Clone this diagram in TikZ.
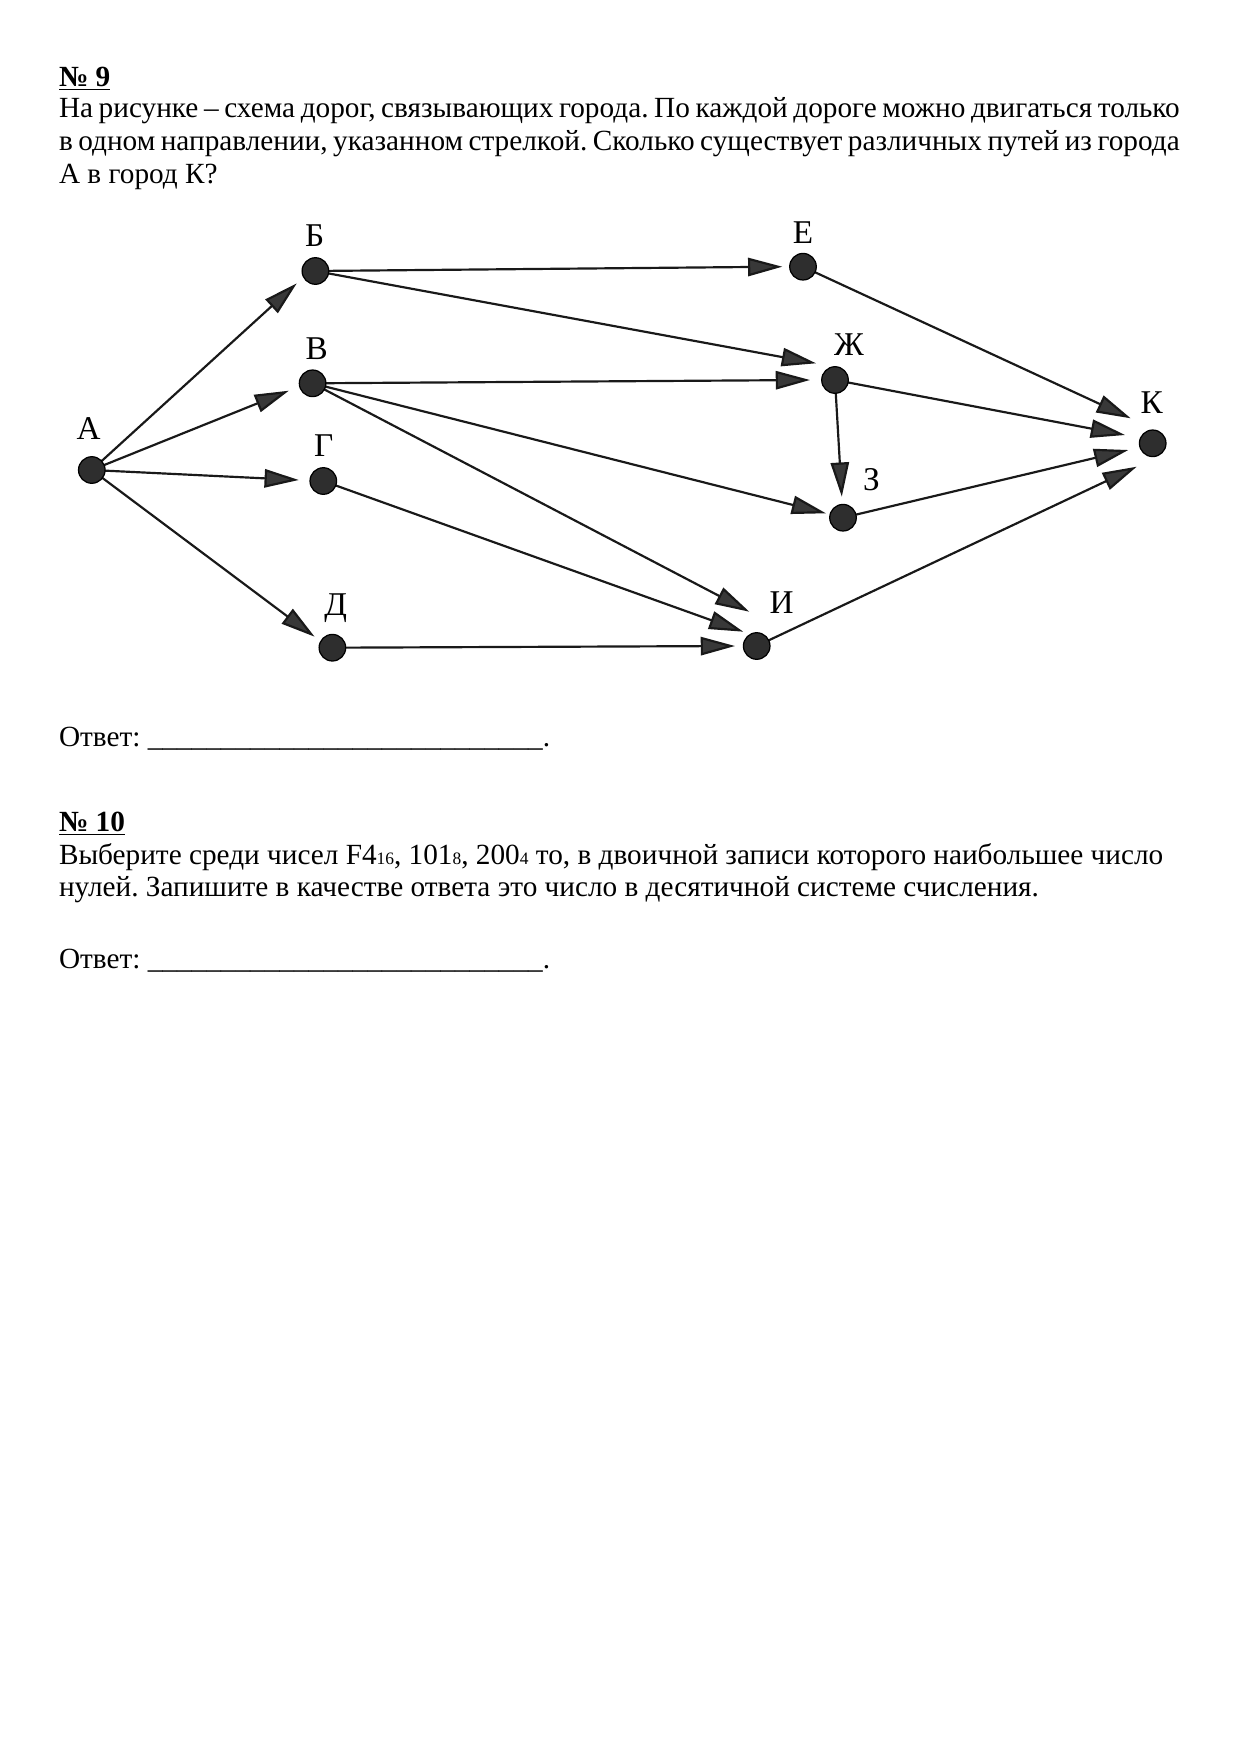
\documentclass[tikz,border=0pt]{standalone}
\usepackage{fontspec}
\setmainfont{Liberation Serif}
\usetikzlibrary{arrows.meta,calc,backgrounds}
\newcommand\sbs[1]{{\fontsize{8.4pt}{9pt}\selectfont #1}}
\frenchspacing
\begin{document}
\begin{tikzpicture}[x=0.48181pt,y=-0.48181pt,
  txt/.style={anchor=base west,inner sep=0,outer sep=0,font=\fontsize{14.1pt}{16pt}\selectfont},
  city/.style={circle,fill=black!82,draw=black,line width=0.6pt,minimum size=12.8pt,inner sep=0},
  lbl/.style={anchor=base,inner sep=0,outer sep=0,font=\fontsize{16pt}{17pt}\selectfont},
  road/.style={line width=1.05pt,draw=black!90,-{Triangle[length=16.5pt,width=8.8pt,fill=black!78]}}
]
\useasboundingbox (0,0) rectangle (1241,1754);

% ---- task 9 text
\node[txt] (h9) at (59,86.7) {\underline{\textbf{№ 9}}};
\node[txt] (p1) at (59,117.3) {\makebox[540pt][s]{На рисунке – схема дорог, связывающих города. По каждой дороге можно двигаться только}};
\node[txt] (p2) at (59,150.7) {\makebox[540pt][s]{в одном направлении, указанном стрелкой. Сколько существует различных путей из города}};
\node[txt] (p3) at (59,183.3) {А в город К?};

% ---- graph nodes
\node[city] (A)  at (91.8,470) {};
\node[city] (B)  at (315.4,271) {};
\node[city] (V)  at (312.6,383.3) {};
\node[city] (G)  at (323.3,481) {};
\node[city] (D)  at (332.4,647.7) {};
\node[city] (E)  at (803,266.7) {};
\node[city] (Zh) at (835,380) {};
\node[city] (Z)  at (843,517.7) {};
\node[city] (I)  at (756.7,646) {};
\node[city] (K)  at (1152.7,443.3) {};

% ---- labels
\node[lbl] (lA)  at (88.6,439.3) {А};
\node[lbl] (lB)  at (314.6,246.7) {Б};
\node[lbl] (lV)  at (316.6,359.3) {В};
\node[lbl] (lG)  at (323.7,456.7) {Г};
\node[lbl] (lD)  at (335.6,615) {Д};
\node[lbl] (lE)  at (803,243.3) {Е};
\node[lbl] (lZh) at (848.9,355) {Ж};
\node[lbl] (lZ)  at (871.5,490) {З};
\node[lbl] (lI)  at (781.7,613.3) {И};
\node[lbl] (lK)  at (1151.7,413.3) {К};

% ---- roads
\begin{scope}[on background layer]
\draw[road] (A.center) -- ($(B.center)+(-18.6,12.3)$);
\draw[road] (A.center) -- ($(V.center)+(-23.7,7.4)$);
\draw[road] (A.center) -- ($(G.center)+(-24.5,-1)$);
\draw[road] (A.center) -- ($(D.center)+(-17.8,-11)$);
\draw[road] (B.center) -- ($(E.center)+(-20.7,0)$);
\draw[road] (B.center) -- ($(Zh.center)+(-19,-16.7)$);
\draw[road] (V.center) -- ($(Zh.center)+(-25,0)$);
\draw[road] (Zh.center) -- ($(Z.center)+(-1.2,-21)$);
\draw[road] (V.center) -- ($(Z.center)+(-17.1,-4.4)$);
\draw[road] (V.center) -- ($(I.center)+(-7.4,-34.3)$);
\draw[road] (G.center) -- ($(I.center)+(-13.4,-14.3)$);
\draw[road] (D.center) -- ($(I.center)+(-21.7,0)$);
\draw[road] (E.center) -- ($(K.center)+(-22,-25)$);
\draw[road] (Zh.center) -- ($(K.center)+(-27.7,-8.3)$);
\draw[road] (Z.center) -- ($(K.center)+(-24.4,6.7)$);
\draw[road] (I.center) -- ($(K.center)+(-16,23.4)$);
\end{scope}

\node[txt] (ans9) at (59,746) {Ответ: \_\_\_\_\_\_\_\_\_\_\_\_\_\_\_\_\_\_\_\_\_\_\_\_\_\_\_.};

% ---- task 10
\node[txt] (h10) at (59,831.7) {\underline{\textbf{№ 10}}};
\node[txt] (q1) at (59,864.3) {Выберите среди чисел F4\sbs{16}, 101\sbs{8}, 200\sbs{4} то, в двоичной записи которого наибольшее число};
\node[txt] (q2) at (59,896.7) {нулей. Запишите в качестве ответа это число в десятичной системе счисления.};
\node[txt] (ans10) at (59,968.3) {Ответ: \_\_\_\_\_\_\_\_\_\_\_\_\_\_\_\_\_\_\_\_\_\_\_\_\_\_\_.};
\end{tikzpicture}
\end{document}
